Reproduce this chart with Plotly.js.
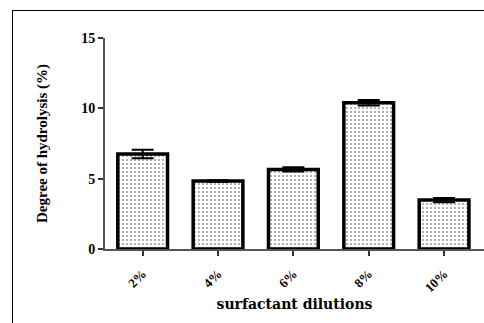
<!DOCTYPE html>
<html>
<head>
<script src="https://cdn.plot.ly/plotly-3.0.1.min.js"></script>
<style>
html,body{margin:0;padding:0;background:#fff;width:484px;height:323px;overflow:hidden;}
#frame{position:absolute;left:12px;top:10px;width:490px;height:330px;border:1.5px solid #000;box-sizing:border-box;}
#chart{position:absolute;left:0;top:0;width:484px;height:323px;}
</style>
</head>
<body>
<div id="frame"></div>
<div id="chart"></div>
<script>
const categories = ['2%', '4%', '6%', '8%', '10%'];
const values = [6.75, 4.83, 5.66, 10.4, 3.48];
const errors = [0.3, 0.05, 0.15, 0.2, 0.15];
const yTicks = [0, 5, 10, 15];

const font = {family: 'Liberation Serif, Times New Roman, serif', color: '#000', weight: 'bold'};

Plotly.newPlot('chart', [{
  type: 'bar',
  x: categories,
  y: values,
  width: 0.66,
  marker: {
    color: '#fff',
    line: {color: '#000', width: 3.5},
    pattern: {shape: '.', fgcolor: '#999', bgcolor: '#fff', size: 4, solidity: 0.2}
  },
  error_y: {type: 'data', array: errors, visible: true, color: '#000', thickness: 2, width: 11},
  hoverinfo: 'none'
}], {
  width: 484, height: 323,
  margin: {l: 105, r: 0, t: 38, b: 74},
  paper_bgcolor: 'rgba(0,0,0,0)',
  plot_bgcolor: 'rgba(0,0,0,0)',
  showlegend: false,
  xaxis: {
    type: 'category',
    range: [-0.5, 4.53],
    showline: true, linecolor: '#555', linewidth: 2,
    ticks: 'outside', ticklen: 5, tickwidth: 2, tickcolor: '#333',
    tickangle: -45,
    ticklabelstandoff: 5,
    tickfont: Object.assign({size: 13}, font),
    title: {text: 'surfactant dilutions', font: {family: 'DejaVu Serif, serif', size: 14, color: '#000', weight: 'bold'}, standoff: 5},
    showgrid: false, zeroline: false, fixedrange: true
  },
  yaxis: {
    range: [0, 15],
    tickvals: yTicks,
    ticktext: yTicks.map(String),
    showline: true, linecolor: '#555', linewidth: 2,
    ticks: 'outside', ticklen: 5, tickwidth: 2, tickcolor: '#333',
    tickfont: Object.assign({size: 14}, font),
    title: {text: 'Degree of hydrolysis (%)', font: Object.assign({size: 15}, font), standoff: 30},
    showgrid: false, zeroline: false, fixedrange: true
  }
}, {displayModeBar: false, staticPlot: true});
</script>
</body>
</html>
